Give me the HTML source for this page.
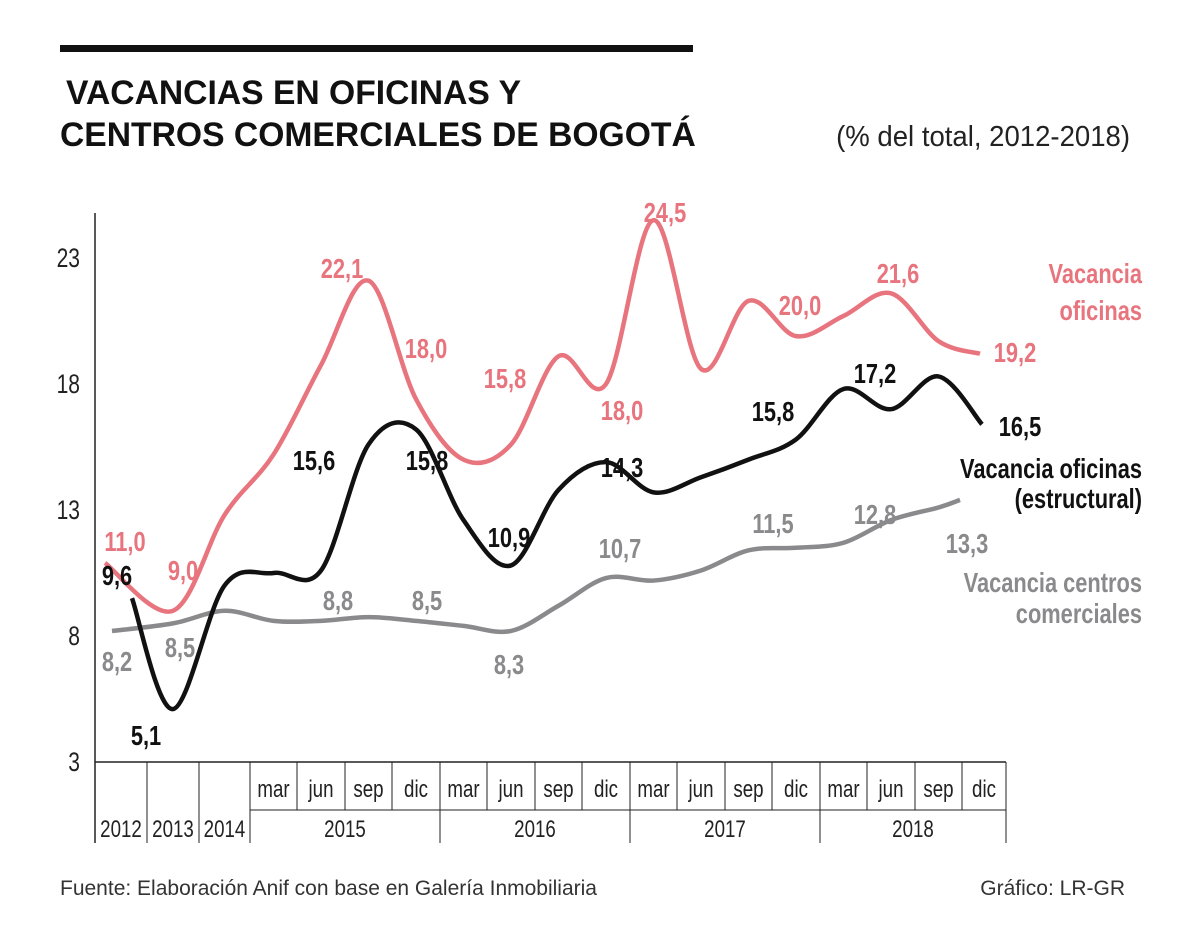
<!DOCTYPE html>
<html><head><meta charset="utf-8">
<style>
body{margin:0;background:#fff;width:1200px;height:945px;overflow:hidden;font-family:"Liberation Sans",sans-serif}
svg text{font-family:"Liberation Sans",sans-serif}
</style></head><body>
<svg width="1200" height="945" xmlns="http://www.w3.org/2000/svg">
<rect x="60" y="45" width="633" height="7" fill="#111"/>
<text transform="translate(66,104) scale(0.99,1)" font-weight="bold" font-size="34" fill="#111">VACANCIAS EN OFICINAS Y</text>
<text transform="translate(60,146) scale(0.99,1)" font-weight="bold" font-size="34" fill="#111">CENTROS COMERCIALES DE BOGOTÁ</text>
<text transform="translate(1130,146) scale(0.95,1)" text-anchor="end" font-size="29" fill="#222">(% del total, 2012-2018)</text>
<g id="axes"></g>
<g id="series"></g>
<g id="labels" font-weight="bold" font-size="28"></g>
<text x="60" y="895" font-size="21" fill="#333">Fuente: Elaboración Anif con base en Galería Inmobiliaria</text>
<text x="1125" y="895" text-anchor="end" font-size="21" fill="#333">Gráfico: LR-GR</text>
</svg>
<script>
const categories=["2012","2013","2014","mar","jun","sep","dic","mar","jun","sep","dic","mar","jun","sep","dic","mar","jun","sep","dic"];
const yearGroups=[["2015",3,6],["2016",7,10],["2017",11,14],["2018",15,18]];
const oficinas=[10.9,9.0,12.8,15.2,18.75,22.1,17.4,15.0,15.6,19.1,18.0,24.5,18.6,21.3,19.9,20.7,21.6,19.7,19.2];
const estructural=[9.5,5.1,10.0,10.5,10.6,15.6,16.2,12.6,10.8,13.8,14.9,13.7,14.3,15.0,15.8,17.8,17.0,18.3,16.4];
const centros=[8.2,8.5,9.0,8.6,8.6,8.75,8.6,8.4,8.2,9.2,10.3,10.2,10.6,11.4,11.5,11.7,12.6,13.1,13.4];
const yTicks=[3,8,13,18,23];
const NS="http://www.w3.org/2000/svg";
const SX=0.78;
const bounds=[95,147,199,250,297,345,392,440,487,535,582,630,677,725,772,820,867,915,962,1006];
function xc(i){return (bounds[i]+bounds[i+1])/2}
function y(v){return 762-(v-3)*25.2}
function mk(p,t,a){const e=document.createElementNS(NS,t);for(const k in a)e.setAttribute(k,a[k]);p.appendChild(e);return e}
function tx(p,x,yy,s,a){const e=mk(p,'text',a);e.setAttribute('transform','translate('+x+','+yy+') scale('+SX+',1)');e.textContent=s;return e}
const ax=document.getElementById('axes');
let l=mk(ax,'line',{x1:95,y1:213,x2:95,y2:843,stroke:'#222','stroke-width':1.5});


yTicks.forEach(t=>{const e=tx(ax,80,y(t)+9,String(t),{'text-anchor':'end','font-size':27,fill:'#222'});

});
mk(ax,'line',{x1:95,y1:762,x2:1006,y2:762,stroke:'#222','stroke-width':1.5});
bounds.forEach((b,i)=>{const full=i<=3||[7,11,15,19].includes(i);mk(ax,'line',{x1:b,y1:762,x2:b,y2:full?843:810,stroke:'#222','stroke-width':1})});
mk(ax,'line',{x1:250,y1:810,x2:1006,y2:810,stroke:'#222','stroke-width':1});
categories.forEach((c,i)=>{const e=tx(ax,xc(i),i<3?837:797,c,{'text-anchor':'middle','font-size':24,fill:'#222'});

});
yearGroups.forEach(g=>{const e=tx(ax,(bounds[g[1]]+bounds[g[2]+1])/2,837,g[0],{'text-anchor':'middle','font-size':24,fill:'#222'});

});
function path(vals,x0,x1){const pts=vals.map((v,i)=>[xc(i),y(v)]);pts[0][0]=x0;pts[pts.length-1][0]=x1;
let d='M'+pts[0][0]+','+pts[0][1];
for(let i=0;i<pts.length-1;i++){const p0=pts[i-1]||pts[i],p1=pts[i],p2=pts[i+1],p3=pts[i+2]||p2;
d+=' C'+(p1[0]+(p2[0]-p0[0])/6)+','+(p1[1]+(p2[1]-p0[1])/6)+' '+(p2[0]-(p3[0]-p1[0])/6)+','+(p2[1]-(p3[1]-p1[1])/6)+' '+p2[0]+','+p2[1];}
return d}
const sg=document.getElementById('series');
let p=mk(sg,'path',{d:path(centros,112,960),fill:'none',stroke:'#8a8a8c','stroke-width':4.5});


p=mk(sg,'path',{d:path(oficinas,105,980),fill:'none',stroke:'#e8747e','stroke-width':4.5});


p=mk(sg,'path',{d:path(estructural,132,982),fill:'none',stroke:'#111','stroke-width':4.5});


const lg=document.getElementById('labels');
const pink='#e8747e',gray='#8a8a8c',blk='#111';
const labs=[["11,0",125,551,pink],["9,0",183,580,pink],["22,1",342,278,pink],["18,0",426,358,pink],["15,8",505,388,pink],["18,0",622,420,pink],["24,5",665,222,pink],["20,0",800,315,pink],["21,6",898,283,pink],["19,2",1015,362,pink],
["9,6",117,585,blk],["5,1",146,745,blk],["15,6",314,470,blk],["15,8",427,470,blk],["10,9",509,547,blk],["14,3",622,477,blk],["15,8",773,421,blk],["17,2",875,383,blk],["16,5",1020,436,blk],
["8,2",117,671,gray],["8,5",180,657,gray],["8,8",338,610,gray],["8,5",427,610,gray],["8,3",509,674,gray],["10,7",620,558,gray],["11,5",773,533,gray],["12,8",875,524,gray],["13,3",967,553,gray]];
labs.forEach(a=>{const e=tx(lg,a[1],a[2],a[0],{'text-anchor':'middle',fill:a[3]});

});
const leg=[["Vacancia",283,pink],["oficinas",320,pink],["Vacancia oficinas",478,blk],["(estructural)",508,blk],["Vacancia centros",592,gray],["comerciales",623,gray]];
leg.forEach(a=>{const e=tx(lg,1142,a[1],a[0],{'text-anchor':'end',fill:a[2]});

});
</script>
</body></html>
